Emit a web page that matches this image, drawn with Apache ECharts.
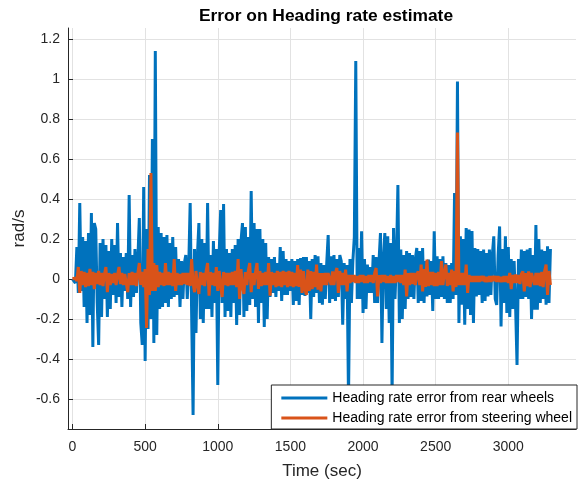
<!DOCTYPE html>
<html>
<head>
<meta charset="utf-8">
<script src="https://cdn.jsdelivr.net/npm/echarts@6/dist/echarts.min.js"></script>
<style>html,body{margin:0;padding:0;background:#fff}#c{width:583px;height:481px}</style>
</head>
<body>
<div id="c"></div>
<script>
// sample step (sec) and series values
var timeStep = 10;
var rearWheels = [
0, 0.01, -0.02, 0.16, -0.07, 0.38, -0.06, 0.21, -0.14, 0.19,
-0.22, 0.23, -0.18, 0.33, -0.34, 0.28, 0.25, -0.12, -0.33, 0.18,
-0.19, 0.20, -0.10, 0.17, -0.19, 0.14, -0.15, 0.2, -0.08, 0.17,
-0.12, 0.28, -0.09, 0.13, -0.14, 0.11, -0.06, 0.13, -0.1, 0.42,
-0.14, 0.12, -0.09, 0.15, -0.07, 0.1, 0.305, -0.22, -0.33, 0.46,
-0.41, 0.25, -0.25, 0.52, -0.2, 0.70, -0.32, 1.14, -0.28, 0.26,
-0.15, 0.23, -0.14, 0.21, -0.12, 0.22, -0.14, 0.18, -0.1, 0.21,
-0.09, 0.16, -0.08, 0.10, -0.14, 0.09, -0.1, 0.08, 0.12, -0.10,
0.06, 0.38, -0.17, -0.68, 0.15, -0.27, 0.12, 0.28, -0.2, 0.2,
-0.22, 0.18, -0.15, 0.38, -0.15, 0.12, -0.19, 0.19, -0.12, 0.15,
-0.53, 0.14, 0.345, -0.12, 0.375, -0.19, 0.15, -0.16, 0.13, -0.19,
0.15, -0.12, 0.17, -0.23, 0.2, -0.18, 0.19, 0.28, -0.19, 0.26,
-0.16, 0.21, -0.13, 0.44, -0.1, 0.28, -0.14, 0.25, -0.22, 0.25,
-0.12, 0.2, -0.24, 0.18, -0.2, 0.11, -0.09, 0.1, -0.07, 0.11,
-0.09, 0.08, -0.06, 0.16, -0.11, 0.14, -0.08, 0.1, -0.08, 0.09,
-0.06, 0.1, -0.13, 0.09, -0.11, 0.1, -0.13, 0.105, -0.08, 0.11,
-0.085, 0.11, -0.07, 0.09, -0.2, 0.1, -0.09, 0.12, -0.07, 0.113,
-0.12, 0.08, -0.128, 0.07, -0.1, 0.08, 0.22, -0.12, 0.113, -0.1,
0.12, -0.11, 0.1, -0.09, 0.12, 0.09, -0.229, 0.08, -0.1, 0.07,
-0.6, 0.1, -0.12, 0.09, 0.21, 1.09, -0.1, 0.155, -0.1, 0.238,
-0.17, 0.1, -0.15, 0.072, -0.07, 0.06, -0.07, 0.12, -0.12, 0.11,
-0.12, 0.09, 0.23, -0.32, 0.1, 0.23, -0.15, 0.213, -0.22, 0.18,
-0.58, 0.255, -0.1, 0.1, 0.47, -0.22, 0.147, -0.2, 0.12, -0.15,
0.14, -0.1, 0.13, -0.09, 0.12, -0.1, 0.1, 0.155, -0.12, 0.14,
-0.11, 0.155, -0.12, 0.09, -0.087, 0.097, -0.08, 0.09, -0.16, 0.238,
-0.1, 0.113, -0.1, 0.1, -0.09, 0.113, -0.1, 0.08, -0.12, 0.07,
-0.12, 0.08, -0.1, 0.43, -0.08, 0.988, -0.22, 0.213, -0.128, 0.2,
-0.229, 0.255, -0.15, 0.247, -0.18, 0.24, -0.22, 0.155, -0.087, 0.15,
-0.08, 0.14, -0.12, 0.147, -0.11, 0.13, -0.087, 0.147, -0.08, 0.12,
0.213, -0.1, -0.13, 0.12, 0.263, -0.237, 0.15, -0.12, 0.213, -0.17,
0.16, -0.19, 0.1, -0.15, 0.09, -0.13, -0.43, 0.1, -0.1, 0.147,
-0.1, 0.14, -0.09, 0.147, -0.1, 0.155, -0.2, 0.12, -0.153, 0.27,
-0.153, 0.2, -0.12, 0.147, -0.1, 0.14, -0.128, 0.163, -0.12, 0.15
];
var steeringWheel = [
0, 0, 0.005, -0.01, 0.06, -0.07, 0.04, -0.03, 0.035, -0.04,
0.03, -0.035, 0.05, -0.03, 0.035, -0.05, 0.03, -0.025, 0.04, -0.03,
0.03, -0.035, 0.025, 0.06, -0.066, 0.03, -0.03, 0.025, -0.02, 0.03,
-0.03, 0.02, 0.06, -0.025, 0.03, -0.03, 0.025, -0.02, -0.066, 0.03,
-0.03, 0.035, -0.03, 0.03, -0.035, 0.03, 0.08, -0.03, 0.035, -0.04,
0.05, -0.245, 0.15, -0.08, 0.53, -0.06, 0.08, -0.06, 0.07, -0.04,
0.035, -0.03, 0.03, -0.035, 0.08, -0.03, 0.035, -0.03, 0.03, -0.035,
0.1, -0.06, 0.03, -0.03, 0.025, -0.03, 0.03, -0.025, 0.03, -0.03,
0.03, -0.035, 0.1, -0.02, -0.066, 0.04, -0.03, -0.075, 0.035, -0.03,
0.03, -0.035, 0.04, 0.08, -0.083, 0.035, -0.03, 0.03, -0.035, 0.06,
-0.06, 0.04, -0.03, -0.09, 0.035, -0.03, 0.03, -0.035, 0.03, -0.03,
0.035, -0.03, 0.04, -0.04, 0.1, -0.1, 0.05, -0.04, -0.075, 0.035,
-0.03, 0.04, 0.08, -0.066, 0.03, -0.03, 0.035, 0.08, -0.05, 0.04,
-0.035, 0.03, -0.03, 0.035, -0.03, 0.08, -0.083, 0.035, -0.03, 0.03,
-0.04, 0.04, -0.035, 0.035, -0.04, 0.04, -0.03, 0.035, -0.04, 0.04,
-0.035, 0.035, -0.04, 0.03, -0.035, 0.07, -0.04, 0.047, -0.07, 0.04,
-0.05, -0.08, 0.047, -0.06, 0.04, -0.05, 0.035, -0.04, 0.072, -0.053,
0.03, -0.062, 0.03, -0.03, 0.03, -0.03, 0.03, 0.038, -0.03, 0.038,
-0.03, 0.03, 0.055, -0.07, 0.04, -0.03, 0.03, -0.03, 0.047, -0.062,
0.02, -0.02, 0.02, -0.015, 0.02, -0.02, 0.015, -0.02, 0.02, -0.015,
0.02, -0.02, 0.015, -0.02, 0.02, -0.015, 0.02, -0.02, 0.03, 0.055,
-0.087, 0.02, -0.02, 0.02, -0.015, 0.02, -0.02, 0.015, -0.02, 0.02,
-0.02, 0.015, -0.02, 0.02, -0.015, 0.02, -0.02, 0.02, -0.03, 0.047,
-0.087, 0.03, -0.03, 0.03, -0.025, 0.03, -0.03, 0.025, 0.038, -0.03,
0.072, -0.062, 0.05, -0.04, 0.097, -0.035, 0.035, -0.03, 0.035, -0.035,
0.03, -0.035, 0.035, -0.03, 0.089, -0.03, 0.03, 0.072, -0.035, 0.03,
-0.03, 0.047, -0.062, 0.04, -0.04, 0.733, -0.03, 0.03, -0.03, 0.03,
-0.03, 0.072, -0.07, 0.02, -0.015, 0.015, -0.015, 0.015, -0.015, 0.015,
-0.015, 0.015, -0.01, 0.015, -0.015, 0.01, -0.015, 0.015, -0.015, 0.015,
-0.01, 0.015, -0.015, 0.015, -0.015, 0.01, -0.015, 0.015, -0.015, 0.015,
-0.02, 0.03, -0.05, 0.02, -0.02, 0.022, -0.02, 0.02, -0.025, 0.025,
0.038, -0.062, 0.03, -0.035, 0.038, -0.04, 0.03, 0.03, -0.03, 0.03,
-0.03, 0.03, -0.035, 0.035, -0.04, 0.04, 0.072, -0.08, 0.04, -0.03
];
var xTicks = [0, 500, 1000, 1500, 2000, 2500, 3000];
var yTicks = [-0.6, -0.4, -0.2, 0, 0.2, 0.4, 0.6, 0.8, 1, 1.2];
var seriesNames = ['Heading rate error from rear wheels', 'Heading rate error from steering wheel'];
var seriesColors = ['#0072BD', '#D95319'];

function pairs(vals) {
  return vals.map(function (v, i) { return [i * timeStep, v]; });
}

var axisCol = '#262626';
var gridCol = '#e2e2e2';
var font = 'Liberation Sans, Arial, Helvetica, sans-serif';

var chart = echarts.init(document.getElementById('c'), null, {renderer: 'canvas'});
chart.setOption({
  animation: false,
  backgroundColor: '#ffffff',
  title: {
    text: 'Error on Heading rate estimate',
    left: 321, top: 3, textAlign: 'center',
    textStyle: {fontFamily: font, fontSize: 17.4, fontWeight: 'bold', color: '#000'}
  },
  grid: {left: 68, right: 7, top: 28, bottom: 52, containLabel: false, outerBoundsMode: 'none'},
  legend: {
    orient: 'vertical', right: 6, bottom: 52,
    backgroundColor: '#ffffff', borderColor: axisCol, borderWidth: 1, borderRadius: 0,
    padding: [6, 5, 4, 10], itemGap: 6, itemWidth: 46, itemHeight: 3,
    icon: 'rect',
    textStyle: {fontFamily: font, fontSize: 14, lineHeight: 14, color: '#000'},
    data: seriesNames
  },
  xAxis: {
    type: 'value', min: -31, max: 3466,
    name: 'Time (sec)', nameLocation: 'middle', nameGap: 34, nameMoveOverlap: false,
    nameTextStyle: {fontFamily: font, fontSize: 17, color: axisCol},
    axisLine: {show: true, onZero: false, lineStyle: {color: axisCol, width: 1}},
    axisTick: {show: true, inside: true, length: 5, customValues: xTicks, lineStyle: {color: axisCol}},
    axisLabel: {customValues: xTicks, fontFamily: font, fontSize: 14, color: axisCol, margin: 11,
      formatter: function (v) { return String(v); }},
    splitLine: {show: true, lineStyle: {color: gridCol, width: 1}}
  },
  yAxis: {
    type: 'value', min: -0.75, max: 1.255,
    name: 'rad/s', nameLocation: 'middle', nameGap: 40, nameRotate: 90, nameMoveOverlap: false,
    nameTextStyle: {fontFamily: font, fontSize: 17, color: axisCol},
    axisLine: {show: true, onZero: false, lineStyle: {color: axisCol, width: 1}},
    axisTick: {show: true, inside: true, length: 5, customValues: yTicks, lineStyle: {color: axisCol}},
    axisLabel: {customValues: yTicks, fontFamily: font, fontSize: 14, color: axisCol, margin: 8,
      formatter: function (v) { return String(Math.round(v * 100) / 100); }},
    splitLine: {show: true, lineStyle: {color: gridCol, width: 1}}
  },
  series: [
    {name: seriesNames[0], type: 'line', data: pairs(rearWheels), symbol: 'none',
      color: seriesColors[0], lineStyle: {width: 3, color: seriesColors[0]}, z: 2},
    {name: seriesNames[1], type: 'line', data: pairs(steeringWheel), symbol: 'none',
      color: seriesColors[1], lineStyle: {width: 3, color: seriesColors[1]}, z: 3}
  ]
});
</script>
</body>
</html>
